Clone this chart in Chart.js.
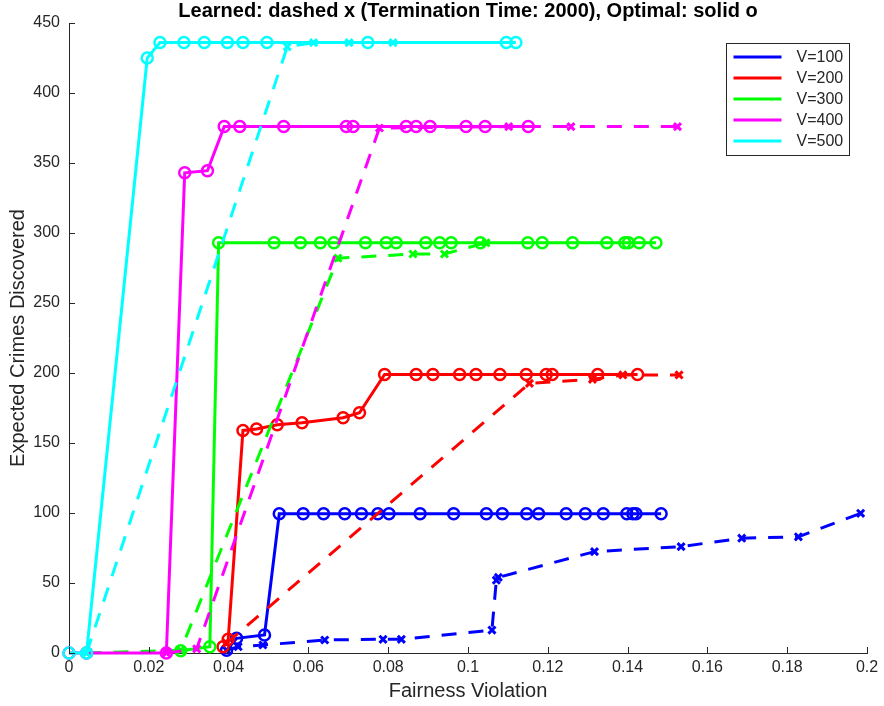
<!DOCTYPE html>
<html lang="en">
  <head>
    <meta charset="UTF-8" />
    <title>Learned vs Optimal</title>
    <script src="https://cdn.jsdelivr.net/npm/chart.js"></script>
    <style>
      body { margin: 0; background: #fff; }
    </style>
  </head>
  <body>
    <canvas id="grafico" width="884" height="706"></canvas>
    <script>
      // tick values
      const xTicks = [0, 0.02, 0.04, 0.06, 0.08, 0.1, 0.12, 0.14, 0.16, 0.18, 0.2]
      const yTicks = [0, 50, 100, 150, 200, 250, 300, 350, 400, 450]

      const labels = ["V=100", "V=200", "V=300", "V=400", "V=500"]
      const cores = ["#0000ff", "#ff0000", "#00ff00", "#ff00ff", "#00ffff"]

      // optimal (solid o) : [fairness violation, crimes]
      const opt100 = [[0.0395, 2], [0.042, 10.5], [0.049, 12.9], [0.0527, 99.5], [0.0587, 99.5], [0.0638, 99.5],
        [0.0691, 99.5], [0.0733, 99.5], [0.0774, 99.5], [0.0802, 99.5], [0.088, 99.5], [0.0964, 99.5],
        [0.1046, 99.5], [0.1086, 99.5], [0.1147, 99.5], [0.1177, 99.5], [0.1246, 99.5], [0.1294, 99.5],
        [0.1339, 99.5], [0.1398, 99.5], [0.1413, 99.5], [0.1421, 99.5], [0.1484, 99.5]]
      const opt200 = [[0.0386, 4.5], [0.0399, 9.8], [0.0436, 159], [0.047, 160], [0.0522, 163], [0.0584, 164.5],
        [0.0687, 168], [0.0728, 171.6], [0.0791, 199], [0.087, 199], [0.0912, 199], [0.0979, 199],
        [0.102, 199], [0.108, 199], [0.1146, 199], [0.1196, 199], [0.1211, 199], [0.1325, 199], [0.1425, 199]]
      const opt300 = [[0.028, 1.6], [0.0353, 4.5], [0.0375, 293], [0.0514, 293], [0.058, 293], [0.063, 293],
        [0.0664, 293], [0.0743, 293], [0.0795, 293], [0.082, 293], [0.0894, 293], [0.0929, 293],
        [0.0958, 293], [0.1031, 293], [0.115, 293], [0.1186, 293], [0.1262, 293], [0.1348, 293],
        [0.1393, 293], [0.1402, 293], [0.1429, 293], [0.1471, 293]]
      const opt400 = [[0, 0], [0.0044, 0], [0.0244, 0], [0.029, 343], [0.0347, 344.5], [0.0389, 376],
        [0.0428, 376], [0.0538, 376], [0.0695, 376], [0.0712, 376], [0.0845, 376], [0.087, 376],
        [0.0905, 376], [0.0995, 376], [0.1043, 376], [0.1151, 376]]
      const opt500 = [[0, 0], [0.0044, 0], [0.0196, 425], [0.0228, 436], [0.0288, 436], [0.0339, 436],
        [0.0397, 436], [0.0436, 436], [0.0496, 436], [0.0749, 436], [0.1096, 436], [0.112, 436]]

      // learned (dashed x)
      const lrn100 = [[0.0395, 2], [0.0424, 4.5], [0.0486, 5.7], [0.0641, 9.3], [0.0787, 9.8], [0.0833, 9.8],
        [0.106, 16.4], [0.1071, 52], [0.1076, 54], [0.1317, 72.4], [0.1534, 76], [0.1686, 82],
        [0.1828, 83], [0.1984, 99.8]]
      const lrn200 = [[0.0395, 7], [0.1154, 192.6], [0.1312, 195.5], [0.1388, 198.6], [0.1529, 198.6]]
      const lrn300 = [[0.0044, 0], [0.028, 2], [0.0674, 282], [0.0862, 285], [0.0941, 285], [0.1045, 293]]
      const lrn400 = [[0.0244, 0], [0.032, 3], [0.0778, 375], [0.1102, 376], [0.1258, 376], [0.1525, 376]]
      const lrn500 = [[0.0044, 0], [0.0547, 433], [0.0613, 436], [0.0702, 436], [0.0812, 436]]

      const optimos = [opt100, opt200, opt300, opt400, opt500]
      const aprendidos = [lrn100, lrn200, lrn300, lrn400, lrn500]

      const paraXY = (lista) => lista.map((p) => ({ x: p[0], y: p[1] }))

      let datasets = []
      labels.forEach((nome, i) => {
        datasets.push({
          label: nome + " learned",
          data: paraXY(aprendidos[i]),
          borderColor: cores[i],
          borderWidth: 3,
          borderDash: [15, 12],
          pointStyle: "crossRot",
          pointRadius: 5,
          pointBorderWidth: 3,
          pointBorderColor: cores[i],
          pointBackgroundColor: "rgba(0,0,0,0)",
          tension: 0,
          clip: false,
          order: (4 - i) * 2 + 1,
        })
        datasets.push({
          label: nome,
          data: paraXY(optimos[i]),
          borderColor: cores[i],
          borderWidth: 3,
          pointStyle: "circle",
          pointRadius: 5.5,
          pointBorderWidth: 2.5,
          pointBorderColor: cores[i],
          pointBackgroundColor: "rgba(0,0,0,0)",
          tension: 0,
          clip: false,
          optimo: true,
          order: (4 - i) * 2,
        })
      })

      // ticks pointing inward, like matlab
      const ticksDentro = {
        id: "ticksDentro",
        afterDraw(chart) {
          const ctx = chart.ctx
          const a = chart.chartArea
          const sx = chart.scales.x
          const sy = chart.scales.y
          ctx.save()
          ctx.strokeStyle = "#262626"
          ctx.lineWidth = 1
          ctx.beginPath()
          xTicks.forEach((v) => {
            const px = Math.round(sx.getPixelForValue(v)) + 0.5
            ctx.moveTo(px, a.bottom)
            ctx.lineTo(px, a.bottom - 6)
          })
          yTicks.forEach((v) => {
            const py = Math.round(sy.getPixelForValue(v)) + 0.5
            ctx.moveTo(a.left, py)
            ctx.lineTo(a.left + 6, py)
          })
          ctx.stroke()
          ctx.restore()
        },
      }

      // legend box in the top right corner, solid lines only
      const legendaCaixa = {
        id: "legendaCaixa",
        afterDraw(chart) {
          const ctx = chart.ctx
          const a = chart.chartArea
          const w = 123
          const h = 112
          const x0 = a.right - 17.5 - w
          const y0 = a.top + 20.5
          ctx.save()
          ctx.fillStyle = "#ffffff"
          ctx.fillRect(x0, y0, w, h)
          ctx.strokeStyle = "#262626"
          ctx.lineWidth = 1
          ctx.strokeRect(x0, y0, w, h)
          ctx.font = "16px 'Liberation Sans', Arial, sans-serif"
          ctx.textBaseline = "middle"
          ctx.textAlign = "left"
          const ds = chart.data.datasets.filter((d) => d.optimo)
          ds.forEach((d, k) => {
            const y = y0 + 13.5 + k * 21
            ctx.strokeStyle = d.borderColor
            ctx.lineWidth = 3
            ctx.beginPath()
            ctx.moveTo(x0 + 7, y)
            ctx.lineTo(x0 + 55, y)
            ctx.stroke()
            ctx.fillStyle = "#262626"
            ctx.fillText(d.label, x0 + 70, y + 1)
          })
          ctx.restore()
        },
      }

      Chart.defaults.font.family = "'Liberation Sans', Arial, sans-serif"
      Chart.defaults.color = "#262626"

      const ctx = document.getElementById("grafico")
      let grafico = new Chart(ctx, {
        type: "line",
        data: { datasets: datasets },
        options: {
          responsive: false,
          devicePixelRatio: 1,
          animation: false,
          events: [],
          layout: { padding: { left: 0, right: 17, top: 0, bottom: 0 } },
          plugins: {
            legend: { display: false },
            tooltip: { enabled: false },
            title: {
              display: true,
              fullSize: false,
              text: "Learned: dashed x (Termination Time: 2000), Optimal: solid o",
              color: "#000000",
              font: { size: 20, weight: "bold", lineHeight: 1.15 },
              padding: { top: 0, bottom: 0 },
            },
          },
          scales: {
            x: {
              type: "linear",
              min: 0,
              max: 0.2,
              afterBuildTicks: (s) => {
                s.ticks = xTicks.map((v) => ({ value: v }))
              },
              afterFit: (s) => {
                s.height = 53
              },
              ticks: {
                font: { size: 16 },
                color: "#262626",
                padding: 5,
                maxRotation: 0,
                callback: (v) => String(v),
              },
              grid: { display: true, drawOnChartArea: false, drawTicks: false },
              border: { display: true, color: "#262626", width: 1 },
              title: {
                display: true,
                text: "Fairness Violation",
                color: "#262626",
                font: { size: 20 },
                padding: { top: 0, bottom: 3 },
              },
            },
            y: {
              min: 0,
              max: 450,
              afterBuildTicks: (s) => {
                s.ticks = yTicks.map((v) => ({ value: v }))
              },
              afterFit: (s) => {
                s.width = 69
              },
              ticks: {
                font: { size: 16 },
                color: "#262626",
                padding: 9,
                callback: (v) => String(v),
              },
              grid: { display: true, drawOnChartArea: false, drawTicks: false },
              border: { display: true, color: "#262626", width: 1 },
              title: {
                display: true,
                text: "Expected Crimes Discovered",
                color: "#262626",
                font: { size: 20 },
                padding: { top: 6, bottom: 0 },
              },
            },
          },
        },
        plugins: [ticksDentro, legendaCaixa],
      })
    </script>
  </body>
</html>
